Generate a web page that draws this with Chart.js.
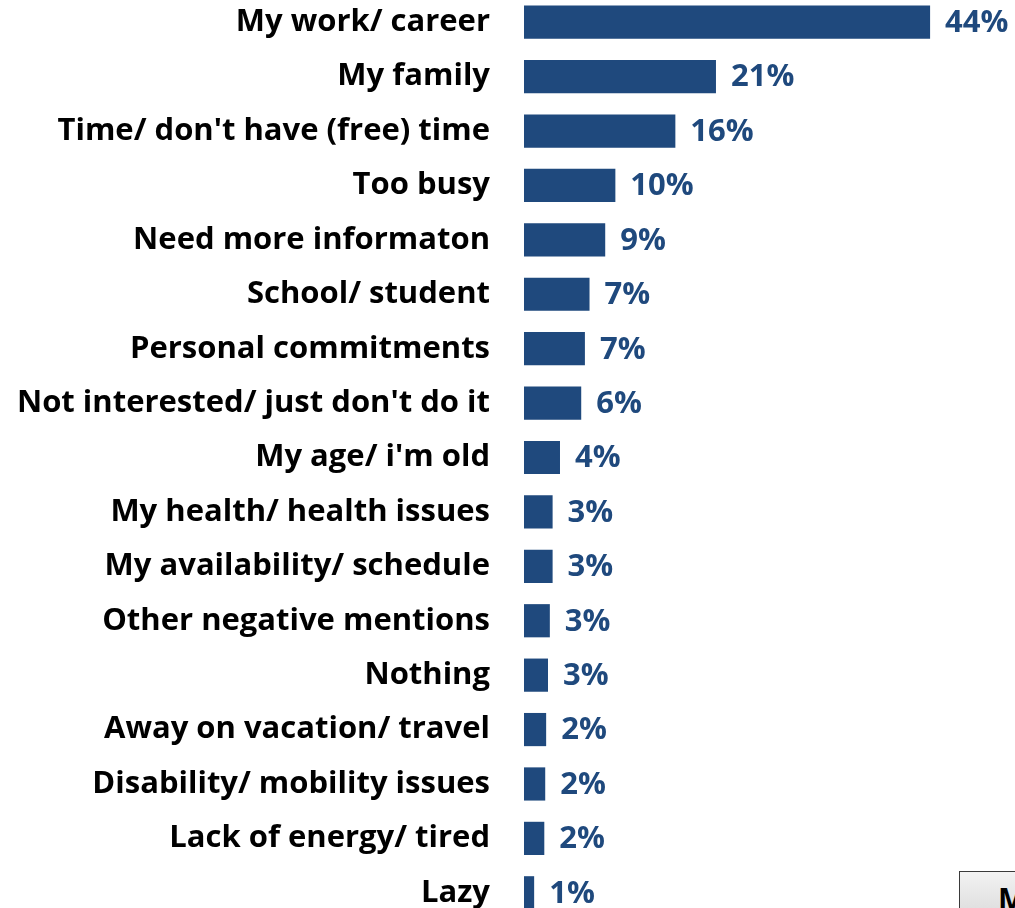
<!DOCTYPE html>
<html>
<head>
<meta charset="utf-8">
<script src="https://cdn.jsdelivr.net/npm/chart.js@4/dist/chart.umd.min.js"></script>
<style>
  html, body { margin: 0; padding: 0; background: #fff; overflow: hidden; }
  body { width: 1015px; height: 908px; position: relative; }
  #wrap { position: absolute; left: 0; top: -5px; width: 1015px; height: 925px; }
  #btn {
    position: absolute; left: 959px; top: 871px; width: 120px; height: 60px;
    border: 1px solid #3a3a3a; box-sizing: border-box;
    background: linear-gradient(#f2f2f2, #d6d6d6);
    font: bold 30px "Open Sans", sans-serif; color: #000;
    padding: 6px 0 0 38px;
  }
</style>
</head>
<body>
<div id="wrap"><canvas id="myChart"></canvas></div>
<div id="btn">M</div>
<script>
const categories = [
  "My work/ career",
  "My family",
  "Time/ don't have (free) time",
  "Too busy",
  "Need more informaton",
  "School/ student",
  "Personal commitments",
  "Not interested/ just don't do it",
  "My age/ i'm old",
  "My health/ health issues",
  "My availability/ schedule",
  "Other negative mentions",
  "Nothing",
  "Away on vacation/ travel",
  "Disability/ mobility issues",
  "Lack of energy/ tired",
  "Lazy"
];
const values = [44, 20.8, 16.4, 9.9, 8.8, 7.1, 6.6, 6.2, 3.9, 3.1, 3.1, 2.8, 2.6, 2.4, 2.3, 2.2, 1.1];

const barColor = '#1F497D';
const fontFamily = '"Open Sans"';

// percent labels at the end of each bar
const valueLabels = {
  id: 'valueLabels',
  afterDatasetsDraw(chart) {
    const ctx = chart.ctx;
    const meta = chart.getDatasetMeta(0);
    ctx.save();
    ctx.fillStyle = barColor;
    ctx.font = 'bold 31px ' + fontFamily;
    ctx.textAlign = 'left';
    ctx.textBaseline = 'middle';
    meta.data.forEach((bar, i) => {
      ctx.fillText(Math.round(values[i]) + '%', bar.x + 15, bar.y + 1);
    });
    ctx.restore();
  }
};

const ctx = document.getElementById('myChart');

new Chart(ctx, {
  type: 'bar',
  data: {
    labels: categories,
    datasets: [{
      data: values,
      backgroundColor: barColor,
      barPercentage: 0.61,
      categoryPercentage: 1
    }]
  },
  plugins: [valueLabels],
  options: {
    indexAxis: 'y',
    responsive: true,
    maintainAspectRatio: false,
    animation: false,
    layout: { padding: 0 },
    plugins: {
      legend: { display: false },
      tooltip: { enabled: false }
    },
    scales: {
      x: {
        display: false,
        min: 0,
        max: 53.2
      },
      y: {
        afterFit(scale) {
          scale.width = 524;
          scale.paddingTop = 0;
          scale.paddingBottom = 0;
        },
        grid: { display: false, drawTicks: false },
        border: { display: false },
        ticks: {
          padding: 34,
          autoSkip: false,
          color: '#000',
          font: { family: fontFamily, weight: 'bold', size: 31 }
        }
      }
    }
  }
});
</script>
</body>
</html>
